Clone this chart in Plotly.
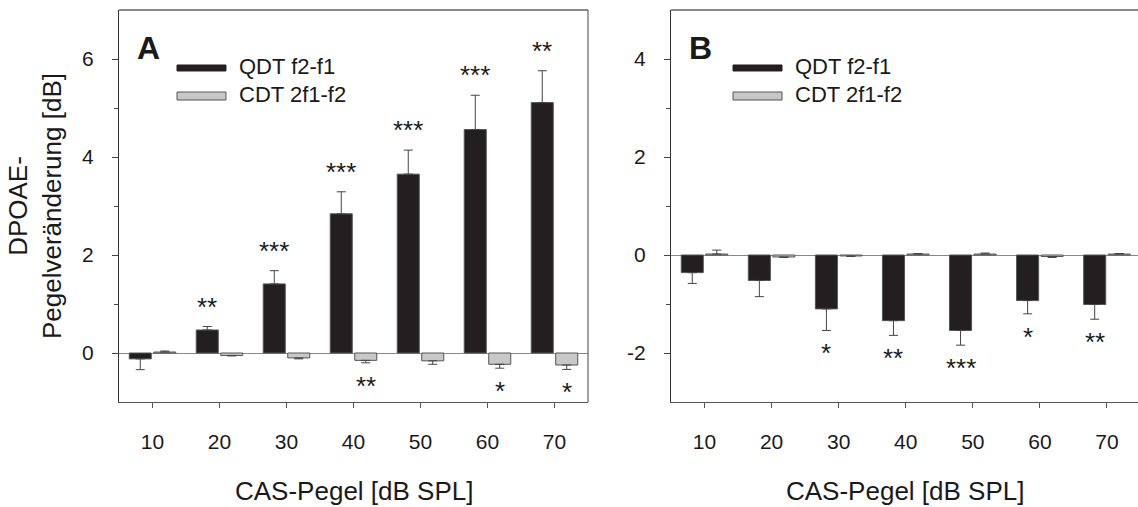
import plotly.graph_objects as go

# CAS levels (dB SPL)
categories = ["10", "20", "30", "40", "50", "60", "70"]
series_names = ["QDT f2-f1", "CDT 2f1-f2"]

# Panel A: mean DPOAE level change [dB] and SEM
a_qdt = [-0.12, 0.47, 1.41, 2.84, 3.65, 4.56, 5.11]
a_qdt_err = [0.22, 0.07, 0.27, 0.45, 0.49, 0.70, 0.65]
a_cdt = [0.02, -0.05, -0.10, -0.15, -0.16, -0.23, -0.245]
a_cdt_err = [0.02, 0.01, 0.02, 0.05, 0.07, 0.08, 0.09]
a_qdt_sig = ["", "**", "***", "***", "***", "***", "**"]
a_cdt_sig = ["", "", "", "**", "", "*", "*"]

# Panel B
b_qdt = [-0.36, -0.52, -1.10, -1.34, -1.54, -0.93, -1.01]
b_qdt_err = [0.22, 0.33, 0.44, 0.30, 0.30, 0.27, 0.30]
b_cdt = [0.02, -0.04, -0.02, 0.02, 0.02, -0.03, 0.02]
b_cdt_err = [0.08, 0.01, 0.01, 0.01, 0.02, 0.02, 0.01]
b_qdt_sig = ["", "", "*", "**", "***", "*", "**"]
b_cdt_sig = ["", "", "", "", "", "", ""]

# y tick values (labels use a plain hyphen for negatives)
a_yticks = [0, 2, 4, 6]
b_yticks = [-2, 0, 2, 4]

FONT = "Liberation Sans, Arial, sans-serif"
TXT = "#1a1a1a"
BLACK = "#231f20"
GREY = "#c8c8c8"
EDGE = "#555555"

W, H = 1138, 507
fig = go.Figure()


def one_sided(vals, errs):
    up = [e if v >= 0 else 0 for v, e in zip(vals, errs)]
    down = [e if v < 0 else 0 for v, e in zip(vals, errs)]
    return up, down


def add_panel(idx, qdt, qdt_err, cdt, cdt_err, qdt_sig, cdt_sig, letter):
    xa = "x" if idx == 1 else f"x{idx}"
    ya = "y" if idx == 1 else f"y{idx}"
    for name, vals, errs, sig, fill, shift in (
        (series_names[0], qdt, qdt_err, qdt_sig, BLACK, -12.25),
        (series_names[1], cdt, cdt_err, cdt_sig, GREY, 12.25),
    ):
        up, down = one_sided(vals, errs)
        fig.add_trace(go.Bar(
            x=categories, y=vals, name=name, xaxis=xa, yaxis=ya,
            marker=dict(color=fill, line=dict(color=EDGE, width=1)),
            error_y=dict(type="data", symmetric=False, array=up, arrayminus=down,
                         color="#444444", thickness=1, width=4.5),
            showlegend=False,
        ))
        # significance stars beyond the end of each error bar
        for i, (v, e, s) in enumerate(zip(vals, errs, sig)):
            if not s:
                continue
            end = v + e if v >= 0 else v - e
            fig.add_annotation(
                x=i, y=end, xref=xa, yref=ya, text=s, showarrow=False,
                xshift=shift, yshift=20 if v >= 0 else -23,
                yanchor="middle", xanchor="center",
                font=dict(family=FONT, size=26, color=TXT),
            )

    xd = "x domain" if idx == 1 else f"x{idx} domain"
    yd = "y domain" if idx == 1 else f"y{idx} domain"
    # panel letter
    fig.add_annotation(x=0.034, y=0.902, xref=xd, yref=yd, text=f"<b>{letter}</b>",
                       showarrow=False, xanchor="left", yanchor="middle",
                       font=dict(family=FONT, size=32, color=TXT))
    # legend keys
    kx0, kx1, tx = (0.1237, 0.2281, 0.2516) if idx == 1 else (0.1328, 0.2377, 0.2612)
    fig.add_shape(type="rect", xref=xd, yref=yd, x0=kx0, x1=kx1, y0=0.8444, y1=0.8597,
                  fillcolor=BLACK, line=dict(color=BLACK, width=1))
    fig.add_shape(type="rect", xref=xd, yref=yd, x0=kx0, x1=kx1, y0=0.7704, y1=0.7908,
                  fillcolor=GREY, line=dict(color=EDGE, width=1))
    for name, ty in zip(series_names, (0.8546, 0.7857)):
        fig.add_annotation(x=tx, y=ty, xref=xd, yref=yd, text=name, showarrow=False,
                           xanchor="left", yanchor="middle",
                           font=dict(family=FONT, size=22, color=TXT))
    # frame: top border (and right border for the left panel)
    fig.add_shape(type="line", xref=xd, yref=yd, x0=0, x1=1, y0=1, y1=1,
                  line=dict(color="#8a8a8a", width=2))
    if idx == 1:
        fig.add_shape(type="line", xref=xd, yref=yd, x0=1, x1=1, y0=0, y1=1,
                      line=dict(color="#444444", width=1))
    # x-axis title
    fig.add_annotation(x=0.5, y=1 - 491 / H, xref=xd, yref="paper",
                       text="CAS-Pegel [dB SPL]", showarrow=False,
                       xanchor="center", yanchor="middle",
                       font=dict(family=FONT, size=26, color=TXT))


add_panel(1, a_qdt, a_qdt_err, a_cdt, a_cdt_err, a_qdt_sig, a_cdt_sig, "A")
add_panel(2, b_qdt, b_qdt_err, b_cdt, b_cdt_err, b_qdt_sig, b_cdt_sig, "B")

ydom = [1 - 402 / H, 1 - 10 / H]
xaxis_common = dict(
    type="category", showline=True, linecolor="#555555", linewidth=1,
    ticks="outside", ticklen=5, tickcolor="#555555", tickwidth=1,
    showgrid=False, zeroline=False, ticklabelstandoff=16,
    tickfont=dict(family=FONT, size=21, color=TXT), fixedrange=True,
)
yaxis_common = dict(
    showline=True, linecolor="#333333", linewidth=1,
    ticks="outside", ticklen=6, tickcolor="#444444", tickwidth=1,
    showgrid=False, zeroline=True, zerolinecolor="#888888", zerolinewidth=1,
    ticklabelstandoff=14, tickfont=dict(family=FONT, size=21, color=TXT),
    domain=ydom,
)


def yticks(vals, lo, hi):
    return dict(
        tickmode="array", tickvals=vals, ticktext=[str(v) for v in vals],
        minor=dict(ticks="outside", ticklen=4, tickcolor="#444444",
                   tickmode="array", tickvals=[v + 1 for v in vals if lo < v + 1 < hi]),
        range=[lo, hi],
    )


fig.update_layout(
    width=W, height=H, margin=dict(l=0, r=0, t=0, b=0),
    paper_bgcolor="white", plot_bgcolor="white",
    barmode="group", bargap=0.269, bargroupgap=0.1,
    xaxis=dict(domain=[119 / W, 588 / W], range=[-0.5, 6.5], anchor="y", **xaxis_common),
    xaxis2=dict(domain=[671 / W, 1.0], range=[-0.5, 6.463], anchor="y2", **xaxis_common),
    yaxis=dict(anchor="x", **yticks(a_yticks, -1, 7), **yaxis_common),
    yaxis2=dict(anchor="x2", **yticks(b_yticks, -3, 5), **yaxis_common),
    font=dict(family=FONT, color=TXT),
)

fig.add_annotation(x=35 / W, y=1 - 206 / H, xref="paper", yref="paper",
                   text="DPOAE-<br>Pegelveränderung [dB]", textangle=-90,
                   showarrow=False, xanchor="center", yanchor="middle",
                   font=dict(family=FONT, size=26, color=TXT))

fig.write_html("out.html")
